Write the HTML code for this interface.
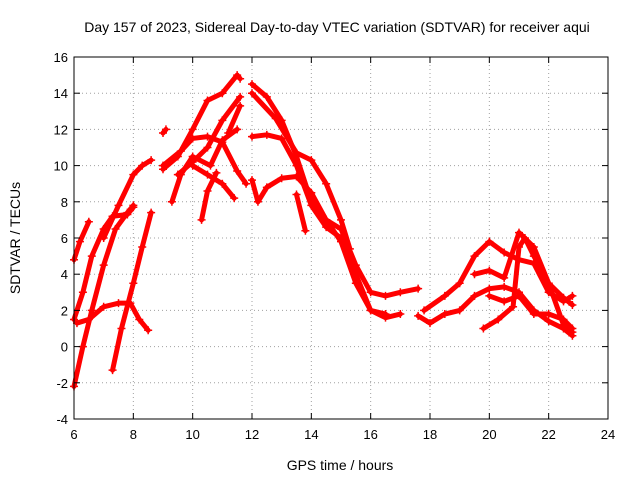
<!DOCTYPE html>
<html><head><meta charset="utf-8"><style>
body{margin:0;background:#fff;}
svg{font-family:"Liberation Sans",sans-serif;}
</style></head><body>
<svg id="chart" width="640" height="480" viewBox="0 0 640 480" xmlns="http://www.w3.org/2000/svg">
<rect width="640" height="480" fill="#fff"/>
<text x="337" y="32" font-size="14" text-anchor="middle">Day 157 of 2023, Sidereal Day-to-day VTEC variation (SDTVAR) for receiver aqui</text>
<g id="grid"></g>
<g id="series"></g>
<rect x="74" y="57" width="534" height="362" fill="none" stroke="#000" stroke-width="1"/>
<g id="ticks"></g>
<text x="340" y="470" font-size="14" text-anchor="middle">GPS time / hours</text>
<text x="20" y="238" font-size="14" text-anchor="middle" transform="rotate(-90 20 238)">SDTVAR / TECUs</text>
</svg>
<script>
const xTicks=[6,8,10,12,14,16,18,20,22,24];
const yTicks=[-4,-2,0,2,4,6,8,10,12,14,16];
const s1=[[6.0,4.8],[6.2,5.8],[6.5,6.9]];
const s2=[[6.0,1.5],[6.3,3],[6.6,5],[7.0,6.5],[7.3,7.2],[7.8,7.3],[8.0,7.7]];
const s3=[[6.0,-2.2],[6.3,0],[6.6,2],[7.0,4.5],[7.4,6.5],[7.8,7.4],[8.0,7.8]];
const s4=[[6.1,1.3],[6.5,1.5],[7.0,2.2],[7.5,2.4],[7.9,2.4],[8.2,1.5],[8.5,0.9]];
const s5=[[7.3,-1.3],[7.6,1],[8.0,3.5],[8.3,5.5],[8.6,7.4]];
const s6=[[7.0,6],[7.5,7.8],[8.0,9.5],[8.3,10],[8.6,10.3]];
const s7=[[9.0,11.8],[9.1,12]];
const s8=[[9.0,9.8],[9.5,10.5],[10.0,12],[10.5,13.6],[11.0,14],[11.5,15],[11.6,14.8]];
const s9=[[9.0,10],[9.6,10.8],[10.0,11.5],[10.5,11.6],[11.0,11.3],[11.5,9.7],[11.8,9]];
const s10=[[11.2,11.8],[11.6,13.3]];
const s11=[[9.5,9.5],[10.0,10.2],[10.5,11],[11.0,12.5],[11.6,13.8]];
const s12=[[10.0,10],[10.5,9.5],[11.0,9],[11.4,8.2]];
const s13=[[10.3,7],[10.5,8.6],[10.8,9.6]];
const s14=[[9.3,8],[9.6,9.5],[10.0,10.5],[10.6,10],[11.0,11.4],[11.5,12]];
const s15=[[12.0,14.5],[12.5,13.8],[13.0,12.5],[13.5,10.5],[14.0,8],[14.5,7],[15.0,6.5],[15.5,4.5],[16.0,3],[16.5,2.8],[17.0,3],[17.6,3.2]];
const s16=[[12.0,11.6],[12.5,11.7],[13.0,11.5],[13.5,10],[14.0,7.8],[14.5,6.6],[15.0,6],[15.5,4],[16.0,2],[16.5,1.6],[17.0,1.8]];
const s17=[[12.0,9.2],[12.2,8],[12.5,8.8],[13.0,9.3],[13.5,9.4],[14.0,8.5],[14.5,7],[15.0,5.8],[15.5,3.5],[16.0,2],[16.5,1.8]];
const s18=[[12.0,14],[12.8,12.6],[13.5,10.7],[14.0,10.3],[14.5,9],[15.0,7],[15.3,5.4]];
const s19=[[13.5,8.4],[13.8,6.4]];
const s20=[[17.6,1.7],[18.0,1.3],[18.5,1.8],[19.0,2],[19.5,2.8],[20.0,3.2],[20.5,3.3],[21.0,3],[21.5,2],[22.0,1.4],[22.5,1],[22.8,0.6]];
const s21=[[17.8,2],[18.5,2.8],[19.0,3.5],[19.5,5],[20.0,5.8],[20.5,5.2],[21.0,4.8],[21.5,4.6],[22.0,3],[22.5,2.5],[22.8,2.8]];
const s22=[[19.8,1],[20.3,1.5],[20.8,2.2],[21.0,5.5],[21.2,6],[21.5,5],[22.0,3.5],[22.5,2.7],[22.8,2.3]];
const s23=[[19.5,4],[20.0,4.2],[20.5,3.8],[21.0,6.3],[21.5,5.5],[22.0,3.5],[22.5,1.2],[22.8,0.8]];
const s24=[[20.0,2.8],[20.5,2.5],[21.0,2.8],[21.5,1.8],[22.0,1.8],[22.5,1.5],[22.8,1]];
const allSeries=[s1,s2,s3,s4,s5,s6,s7,s8,s9,s10,s11,s12,s13,s14,s15,s16,s17,s18,s19,s20,s21,s22,s23,s24];

const NS="http://www.w3.org/2000/svg";
const X0=74,X1=608,Y0=419,Y1=57;
function xs(v){return X0+(v-6)/(24-6)*(X1-X0);}
function ys(v){return Y0-(v+4)/20*(Y0-Y1);}
function mk(tag,attrs,parent){const e=document.createElementNS(NS,tag);for(const k in attrs)e.setAttribute(k,attrs[k]);parent.appendChild(e);return e;}
const grid=document.getElementById('grid'),ticks=document.getElementById('ticks'),ser=document.getElementById('series');
xTicks.forEach(t=>{const x=xs(t);
 if(t>6&&t<24){const g=mk('line',{x1:x,x2:x,y1:Y1,y2:Y0,stroke:'#a0a0a0','stroke-dasharray':'1,3'},grid);
 
 }
 mk('line',{x1:x,x2:x,y1:Y0,y2:Y0-6,stroke:'#000'},ticks);
 mk('line',{x1:x,x2:x,y1:Y1,y2:Y1+6,stroke:'#000'},ticks);
 const l=mk('text',{x:x,y:Y0+20,'font-size':13,'text-anchor':'middle'},ticks);l.textContent=t;
 
 
});
yTicks.forEach(t=>{const y=ys(t);
 if(t>-4&&t<16){const g=mk('line',{x1:X0,x2:X1,y1:y,y2:y,stroke:'#a0a0a0','stroke-dasharray':'1,3'},grid);
 
 }
 mk('line',{x1:X0,x2:X0+6,y1:y,y2:y,stroke:'#000'},ticks);
 mk('line',{x1:X1,x2:X1-6,y1:y,y2:y,stroke:'#000'},ticks);
 const l=mk('text',{x:X0-6,y:y+5,'font-size':13,'text-anchor':'end'},ticks);l.textContent=t;
 
 
});
allSeries.forEach((s,i)=>{
 const g=mk('g',{},ser);
 
 
 mk('polyline',{points:s.map(p=>xs(p[0])+','+ys(p[1])).join(' '),fill:'none',stroke:'#f00','stroke-width':5,'stroke-linejoin':'round','stroke-linecap':'round'},g);
 s.forEach(p=>{const x=xs(p[0]),y=ys(p[1]);
  const m=mk('path',{d:`M${x-4},${y}H${x+4}M${x},${y-4}V${y+4}`,stroke:'#f00','stroke-width':1.5},g);
  
  
 });
});
</script>
</body></html>
